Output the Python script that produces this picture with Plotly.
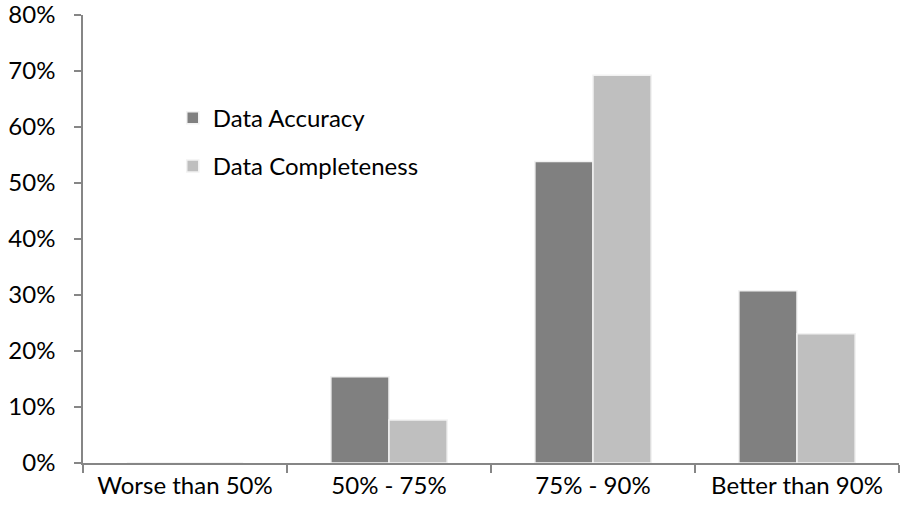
import plotly.graph_objects as go

categories = ["Worse than 50%", "50% - 75%", "75% - 90%", "Better than 90%"]
accuracy = [0.0, 0.1538, 0.5385, 0.3077]
completeness = [0.0, 0.0769, 0.6923, 0.2308]
y_ticks = [0, 0.1, 0.2, 0.3, 0.4, 0.5, 0.6, 0.7, 0.8]

fig = go.Figure()
fig.add_trace(go.Bar(name="Data Accuracy", x=categories, y=accuracy,
                     marker=dict(color="#808080", line=dict(color="#f2f2f2", width=1.5)),
                     legendgroup="a"))
fig.add_trace(go.Bar(name="Data Completeness", x=categories, y=completeness,
                     marker=dict(color="#bfbfbf", line=dict(color="#f2f2f2", width=1.5)),
                     legendgroup="b"))

axis_font = dict(family="Lato, Open Sans, sans-serif", size=24, color="#000000")
fig.update_layout(
    width=900, height=510,
    margin=dict(l=83, r=1, t=15, b=47),
    paper_bgcolor="white", plot_bgcolor="white",
    barmode="group", bargap=0.43, bargroupgap=0.0,
    font=axis_font,
    legend=dict(x=0.11, y=0.82, xanchor="left", yanchor="top",
                bgcolor="rgba(0,0,0,0)", font=axis_font,
                traceorder="grouped", tracegroupgap=14),
    xaxis=dict(type="category", showline=True, linecolor="#868686", linewidth=1.5,
               ticks="outside", tickson="boundaries", ticklen=8, tickcolor="#868686",
               tickwidth=1.5, showgrid=False, tickfont=axis_font, automargin=False),
    yaxis=dict(range=[0, 0.8], tickvals=y_ticks, tickformat=".0%", showline=True,
               linecolor="#868686", linewidth=1.5, ticks="outside", ticklen=7,
               tickcolor="#868686", tickwidth=1.5, showgrid=False, zeroline=False,
               tickfont=axis_font, automargin=False, ticklabelstandoff=14,
               ticklabeloverflow="allow"),
)
fig.write_html("out.html", post_script="document.body.style.margin='0';",
               config={"displayModeBar": False})
